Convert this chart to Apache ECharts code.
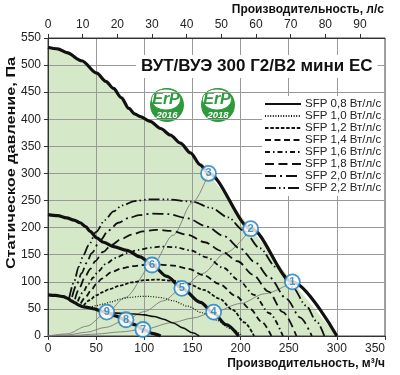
<!DOCTYPE html>
<html><head><meta charset="utf-8">
<script src="https://cdn.jsdelivr.net/npm/echarts@6/dist/echarts.min.js"></script>
<style>html,body{margin:0;padding:0;background:#fff}#c{width:400px;height:375px}</style>
</head><body><div id="c"></div>
<script>
// --- data (x: m3/h, y: Pa) ---
const xTicks = [0, 50, 100, 150, 200, 250, 300, 350];
const yTicks = [0, 50, 100, 150, 200, 250, 300, 350, 400, 450, 500, 550];
const lpsTicks = [0, 10, 20, 30, 40, 50, 60, 70, 80, 90];

const topCurve = [[0,533],[10,530],[19.5,523],[35,508],[50.7,485],[60,470],[68,457],[76,440],[84,420],[90,410],[96,405],[106,396],[117,383],[127,371],[137.5,356],[148,338],[158,316],[166.7,300],[211,198],[253.8,100],[300,0]];
const midCurve = [[0,224],[10,222],[19.4,218],[27,214],[33.3,209],[39,202],[43.7,193],[50.7,181],[57.6,173],[68,165],[81.9,158],[95.8,146],[108,131],[123.6,110],[139.2,88],[158.3,62],[172,42],[185,21],[198,0]];
const lowCurve = [[0,76],[8,75],[16,72.5],[21,69],[24,65],[28,61],[32,57],[36,54],[42,52.5],[48,50],[54,47],[61,43.5],[70,37],[80,30],[90,21],[98.6,12],[108,5],[117,0]];

const sys1 = [[0,0],[20,4],[40,18],[61,43],[80,71],[108,130],[130,186],[150,246],[166.7,300]];
const sys2 = [[0,0],[20,2],[40,7],[60,16],[81,30],[100,45],[120,65],[139,88],[160,115],[185,154],[210.5,198]];
const sys3 = [[0,0],[25,1],[50,3.5],[75,7.5],[98.6,12],[130,25],[150,33],[172,44],[200,60],[225,78],[253.8,100]];

const sfpNames = ['SFP 0,8 Вт/л/с','SFP 1,0 Вт/л/с','SFP 1,2 Вт/л/с','SFP 1,4 Вт/л/с','SFP 1,6 Вт/л/с','SFP 1,8 Вт/л/с','SFP 2,0 Вт/л/с','SFP 2,2 Вт/л/с'];
const sfp08 = [[50,49],[58,45],[66,43],[78,41.5],[90,40.5],[100,39],[110,36],[120,31],[130,24],[140,15],[150,6],[157,0]];
const sfp10 = [[43,53],[50,56],[57,59],[66,63],[75,68],[84,71],[95,73],[105,73],[117,71],[130,65],[145,55],[160,43],[175,29],[190,13],[202,0]];
const sfp12 = [[37,56],[43,66],[50,75],[57,81],[63,86],[75,93],[87,99],[100,103],[114,104],[130,102],[146,96],[162,85],[178,69],[192,48],[204,25],[214,0]];
const sfp14 = [[34,60],[39,72],[45,85],[50,96],[56,106],[66,118],[77,125],[88,129],[99,131],[115,132],[130,130],[146,124],[162,112],[178,96],[195,74],[210,50],[222,26],[232,0]];
const sfp16 = [[31,64],[36,80],[42,96],[47,108],[52,119],[60,133],[70,144],[82,153],[94,159],[106,163],[118,165],[132,164],[148,158],[165,145],[182,126],[198,103],[214,76],[230,42],[244,0]];
const sfp18 = [[28,68],[33,90],[38,108],[44,124],[49,138],[57,155],[66,168],[76,179],[87,187],[98,193],[112,196],[128,194],[145,187],[163,173],[180,157],[197,138],[213,113],[229,82],[244,44],[258,0]];
const sfp20 = [[25,72],[30,96],[35,116],[40,135],[45.5,153],[54,176],[63,195],[73,209],[84,218],[95,223],[108,226],[125,225],[145,217],[165,202],[183,184],[200,161],[215,136],[230,108],[248,68],[262,34],[274,0]];
const sfp22 = [[22,70],[27,100],[32,128],[37,150],[42,167],[50,192],[59,214],[68,230],[77,241],[90,249],[105,252],[125,252],[150,248],[170,236],[187,219],[203,195],[220,162],[237,127],[254,90],[268,56],[279,27],[287,0]];

const pointLabels = ['1','2','3','4','5','6','7','8','9'];
const pointValues = [[253.8,100],[210.5,198],[166.7,300],[172,44],[139,88],[108,131],[98.6,12],[81,30],[61,44]];

// --- chart ---
const FONT = '"Liberation Sans", Arial, sans-serif';
const chart = echarts.init(document.getElementById('c'), null, {renderer:'canvas'});
const sfpData = [sfp08, sfp10, sfp12, sfp14, sfp16, sfp18, sfp20, sfp22];
const sfpDash = ['solid', [1,1.6], [3.5,1.8], [6,3.5], [5,3,1.5,3], [9,4.5], [11,4,2,4], [11,3,1.5,3,1.5,3]];
const sfpWidth = [1.6, 1.2, 1.8, 1.8, 1.8, 1.8, 1.8, 1.8];

const series = [];
series.push({type:'line', data: topCurve, symbol:'none', silent:true, z:-1,
  lineStyle:{width:0}, areaStyle:{color:'#d5e8c8', opacity:1}});
series.push({type:'line', data: sys1, symbol:'none', silent:true, smooth:0.3, smoothMonotone:'x', lineStyle:{color:'#7a7a7a', width:0.9}, z:3});
series.push({type:'line', data: sys2, symbol:'none', silent:true, smooth:0.3, smoothMonotone:'x', lineStyle:{color:'#7a7a7a', width:0.9}, z:3});
series.push({type:'line', data: sys3, symbol:'none', silent:true, smooth:0.3, smoothMonotone:'x', lineStyle:{color:'#7a7a7a', width:0.9}, z:3});
sfpData.forEach((d, i) => {
  series.push({type:'line', name: sfpNames[i], data: d, symbol:'none', smooth:0.3, smoothMonotone:'x', z:4,
    lineStyle:{color:'#111', width: sfpWidth[i], type: sfpDash[i]}, itemStyle:{color:'#111'}});
});
[topCurve, midCurve, lowCurve].forEach(d => {
  series.push({type:'line', data: d, symbol:'none', silent:true, smooth:0.3, smoothMonotone:'x', z:5,
    lineStyle:{color:'#111', width:3.2}});
});
series.push({type:'scatter', data: pointValues.map((v, i) => ({value: v, name: pointLabels[i]})),
  symbol:'circle', symbolSize:15, z:10,
  itemStyle:{color:'#fff', borderColor:'#1a7cc4', borderWidth:1.8},
  label:{show:true, position:'inside', formatter: p => p.name, color:'#1a7cc4', fontWeight:'bold', fontSize:11, fontFamily: FONT}});

function logo(cx, cy, year) {
  return {type:'group', x: cx, y: cy, children:[
    {type:'circle', shape:{cx:0, cy:0, r:20}, style:{fill:'#fff'}},
    {type:'circle', shape:{cx:0, cy:1, r:17}, style:{fill:'#2f9a3c'}},
    {type:'ellipse', shape:{cx:-1, cy:-4.5, rx:14.5, ry:10.5}, style:{fill:'#fff', stroke:'#2f9a3c', lineWidth:1}},
    {type:'text', x:-1, y:-4.5, style:{text:'ErP', font:'italic bold 16px ' + FONT, fill:'#2f9a3c', align:'center', verticalAlign:'middle'}},
    {type:'text', x:0, y:11.5, style:{text: year, font:'italic bold 9.5px ' + FONT, fill:'#fff', align:'center', verticalAlign:'middle'}}
  ]};
}

chart.setOption({
  animation: false,
  grid: {left:48, right:15, top:38, bottom:39, show:true, borderColor:'#444', borderWidth:1, backgroundColor:'transparent'},
  title: {text:'ВУТ/ВУЭ 300 Г2/В2 мини ЕС', left:136, top:55, padding:[3,5,3,5], backgroundColor:'#fff',
    textStyle:{fontSize:17, fontWeight:'bold', color:'#111', fontFamily: FONT}},
  legend: {data: sfpNames, orient:'vertical', left:262, top:96, itemWidth:36, itemHeight:8, itemGap:0,
    backgroundColor:'#fff', padding:[2,2,2,2],
    itemStyle:{color:'rgba(0,0,0,0)', borderColor:'rgba(0,0,0,0)', borderWidth:0, opacity:0},
    textStyle:{fontSize:11.5, color:'#222', fontFamily: FONT, lineHeight:12, padding:[0,0,0,-1]}},
  xAxis: [
    {type:'value', min: xTicks[0], max: xTicks[xTicks.length-1], interval:50, position:'bottom',
     axisLine:{show:true, lineStyle:{color:'#333'}}, axisTick:{show:true, length:4, lineStyle:{color:'#333'}},
     axisLabel:{fontSize:12, color:'#222', margin:7, fontFamily: FONT, alignMaxLabel:'right'},
     splitLine:{show:true, lineStyle:{color:'#999', width:1}}},
    {type:'value', min: lpsTicks[0], max: xTicks[xTicks.length-1] / 3.6, interval:10, position:'top',
     axisLine:{show:true, lineStyle:{color:'#333'}}, axisTick:{show:true, length:4, lineStyle:{color:'#333'}},
     axisLabel:{fontSize:12, color:'#222', margin:7, fontFamily: FONT, showMaxLabel:false,
       formatter: v => (lpsTicks.indexOf(v) >= 0 ? String(v) : '')},
     splitLine:{show:false}}
  ],
  yAxis: {type:'value', min: yTicks[0], max: yTicks[yTicks.length-1], interval:50,
    axisLine:{show:true, lineStyle:{color:'#333'}}, axisTick:{show:true, length:4, lineStyle:{color:'#333'}},
    axisLabel:{fontSize:12, color:'#222', margin:7, fontFamily: FONT},
    splitLine:{show:true, lineStyle:{color:'#999', width:1}}},
  graphic: [
    logo(167, 104, '2016'),
    logo(218, 104, '2018'),
    {type:'text', x:384, y:10, style:{text:'Производительность, л/с', font:'bold 12px ' + FONT, fill:'#111', align:'right', verticalAlign:'middle'}},
    {type:'text', x:385, y:364, style:{text:'Производительность, м³/ч', font:'bold 12px ' + FONT, fill:'#111', align:'right', verticalAlign:'middle'}},
    {type:'text', x:11, y:163, rotation: Math.PI/2, scaleX:1.25, style:{text:'Статическое давление, Па', font:'bold 13px ' + FONT, fill:'#111', align:'center', verticalAlign:'middle'}}
  ],
  series: series
});
</script>
</body></html>
